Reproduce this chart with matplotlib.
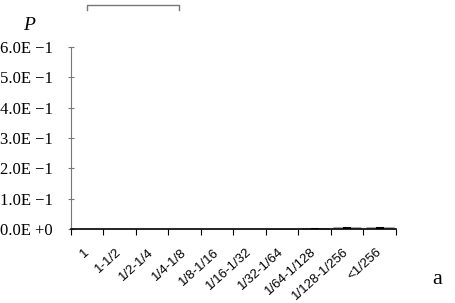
import matplotlib
matplotlib.use('Agg')
from matplotlib import pyplot as plt

categories = ['1', '1-1/2', '1/2-1/4', '1/4-1/8', '1/8-1/16', '1/16-1/32',
              '1/32-1/64', '1/64-1/128', '1/128-1/256', '<1/256']
values = [0.0, 0.0, 0.0, 0.0, 0.0, 0.0, 0.0005, 0.002, 0.005, 0.005]
errors = [0.0, 0.0, 0.0, 0.0, 0.0, 0.0, 0.0005, 0.0005, 0.0005, 0.0005]
y_ticks = [0.0, 0.1, 0.2, 0.3, 0.4, 0.5, 0.6]
y_tick_labels = ['0.0E +0', '1.0E \u22121', '2.0E \u22121', '3.0E \u22121',
                 '4.0E \u22121', '5.0E \u22121', '6.0E \u22121']

fig = plt.figure(figsize=(4.56, 3.03), dpi=100)
ax = fig.add_axes([0.1557, 0.2442, 0.7127, 0.6007])

x = list(range(len(categories)))
ax.bar(x, values, width=0.25, color='black', zorder=3)
ax.errorbar(x[6:], values[6:], yerr=errors[6:], fmt='none', ecolor='#aaaaaa',
            elinewidth=0.8, capsize=10, capthick=0.8, zorder=2)

# bracket above the plot
ax.plot([0, 0, 2.82, 2.82], [0.722, 0.738, 0.738, 0.722], color='#777777',
        lw=1.0, clip_on=False)

ax.set_xlim(-0.5, len(categories) - 0.5)
ax.set_ylim(0, 0.6)
ax.set_yticks(y_ticks)
ax.set_yticklabels(y_tick_labels, family='Liberation Serif', fontsize=12)
ax.tick_params(axis='y', direction='inout', length=5, color='#777777', pad=10.5)

ax.set_xticks([i + 0.5 for i in range(-1, len(categories))], minor=False)
ax.set_xticklabels([])
ax.set_xticks(x, minor=True)
ax.set_xticklabels(categories, minor=True, rotation=42, ha='right', va='center',
                   rotation_mode='anchor', family='Liberation Sans', fontsize=9.5)
ax.tick_params(axis='x', which='major', direction='out', length=4, color='black')
ax.tick_params(axis='x', which='minor', length=0, pad=15.5)

for side in ['top', 'right']:
    ax.spines[side].set_visible(False)
ax.spines['left'].set_color('#777777')
ax.spines['bottom'].set_color('black')
ax.spines['bottom'].set_linewidth(1.2)

fig.text(29.5 / 456, 1 - 25.5 / 303, 'P', family='Liberation Serif', style='italic',
         fontsize=14, ha='center', va='center')
fig.text(437 / 456, 1 - 280 / 303, 'a', family='Liberation Serif',
         fontsize=16, ha='center', va='center')

fig.savefig('out.png', dpi=100)
